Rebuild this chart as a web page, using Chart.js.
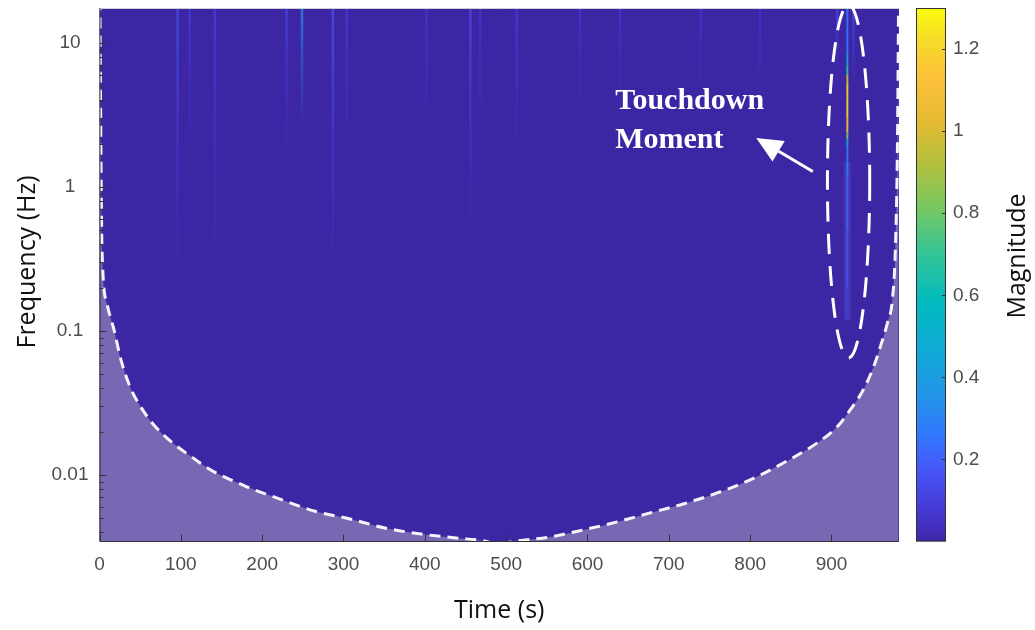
<!DOCTYPE html>
<html lang="en">
<head>
<meta charset="UTF-8">
<title>Wavelet Scalogram</title>
<script src="https://cdn.jsdelivr.net/npm/chart.js@4.4.1/dist/chart.umd.min.js"></script>
<style>
  body { margin: 0; background: #fff; }
  .wrap { position: relative; width: 1035px; height: 630px; }
  #mainChart { position: absolute; left: 0; top: 0; }
  #barChart { position: absolute; left: 880px; top: 0; }
</style>
</head>
<body>
<div class="wrap">
  <canvas id="mainChart" width="1035" height="630"></canvas>
  <canvas id="barChart" width="155" height="630"></canvas>
</div>
<script>
// axes
const timeRange = [0, 983];
const freqRange = [0.00345, 17.5];
const timeTicks = [0, 100, 200, 300, 400, 500, 600, 700, 800, 900];
const freqTicks = [0.01, 0.1, 1, 10];
const magRange = [0, 1.3];
const magTicks = [0.2, 0.4, 0.6, 0.8, 1, 1.2];

// cone of influence (time s, freq Hz)
const coiTimes = [0.5, 2.0, 3.1, 9.2, 17.8, 26.4, 37.5, 48.6, 65.8, 91.6, 113.8, 134.7, 178.4, 221.9, 265, 308, 351, 395, 438.5, 473, 490,
                  505, 554, 594.7, 636.5, 677, 717.7, 759.5, 800, 840.7, 882.5, 907, 923, 939, 951.7, 960, 968.8, 974.8, 978.5, 981, 982.5];
const coiFreqs = [20, 1.2, 0.365, 0.155, 0.102, 0.063, 0.041, 0.031, 0.0226, 0.0164, 0.0133, 0.011, 0.0084, 0.0068, 0.0056, 0.00495, 0.00428, 0.00389, 0.00365, 0.00348, 0.0033,
                  0.00343, 0.00371, 0.00415, 0.00472, 0.00545, 0.00629, 0.0075, 0.00923, 0.0121, 0.0167, 0.0216, 0.0283, 0.0389, 0.0562, 0.0775, 0.1137, 0.164, 0.365, 1.8, 20];

// faint high-frequency streaks: time, peak magnitude, frequency where they fade out
const streakTimes = [96, 111, 142, 230, 249, 287, 304, 402, 456, 468, 513, 591, 640, 739, 812, 907, 927];
const streakMags = [0.13, 0.08, 0.09, 0.1, 0.32, 0.15, 0.08, 0.07, 0.13, 0.07, 0.08, 0.06, 0.06, 0.06, 0.06, 0.12, 0.14];
const streakLowFreqs = [0.2, 1.5, 0.25, 1.5, 2.5, 0.25, 1.5, 2, 0.45, 2, 1.5, 3, 3, 4, 4, 6, 5];

// touchdown streak profile
const touchTime = 919.5;
const touchFreqs = [17.5, 13, 8.5, 7, 6, 5.2, 4.2, 3.0, 2.4, 2.15, 1.9, 1.2, 0.5, 0.2, 0.12];
const touchMags = [0.28, 0.22, 0.3, 0.55, 0.8, 1.15, 1.25, 1.2, 1.05, 0.6, 0.3, 0.22, 0.18, 0.12, 0.06];
const glowFreqs = [1.5, 0.12];

// annotation
const ellipseTimes = [895, 947];
const ellipseFreqs = [0.065, 18.4];
const arrowTimes = [877, 807.5];
const arrowFreqs = [1.28, 2.19];
const noteLines = ['Touchdown', 'Moment'];
const noteTime = 634;
const noteFreqs = [3.48, 1.87];

// parula-like colormap
const parulaStops = [
  [0.00, [62, 38, 168]], [0.06, [69, 57, 212]], [0.13, [71, 85, 246]], [0.20, [50, 120, 254]],
  [0.27, [35, 148, 232]], [0.36, [16, 170, 214]], [0.45, [2, 187, 190]], [0.54, [52, 196, 150]],
  [0.62, [115, 200, 100]], [0.71, [180, 192, 60]], [0.79, [230, 186, 50]], [0.87, [253, 192, 57]],
  [0.94, [245, 220, 40]], [1.00, [249, 251, 14]]
];
const baseColor = 'rgb(60, 38, 164)';
const coiShade = '#7867b3';
const tickColor = '#4d4d4d';
const tickFont = {family: '"Liberation Sans", Arial, sans-serif', size: 19};

function parula(mag, alpha = 1) {
  let f = (mag - magRange[0]) / (magRange[1] - magRange[0]);
  f = Math.max(0, Math.min(1, f));
  for (let i = 1; i < parulaStops.length; i++) {
    const [p1, c1] = parulaStops[i];
    const [p0, c0] = parulaStops[i - 1];
    if (f <= p1) {
      const k = (f - p0) / (p1 - p0);
      const c = c0.map((v, j) => Math.round(v + (c1[j] - v) * k));
      return `rgba(${c[0]}, ${c[1]}, ${c[2]}, ${alpha})`;
    }
  }
  return 'rgb(249, 251, 14)';
}

function fadeStroke(chart, mag, lowF) {
  const {chartArea, scales} = chart;
  if (!chartArea || !scales.y) return parula(mag, 0.5);
  const y0 = scales.y.getPixelForValue(freqRange[1]);
  const y1 = scales.y.getPixelForValue(lowF);
  const g = chart.ctx.createLinearGradient(0, y0, 0, y1);
  g.addColorStop(0, parula(mag, 0.8));
  g.addColorStop(0.4, parula(mag, 0.4));
  g.addColorStop(1, parula(mag, 0));
  return g;
}

// vertical scales: drop the label overhang padding so the plot box fills its slot
function noOverhang(axis) {
  axis.paddingTop = 0;
  axis.paddingBottom = 0;
  axis.paddingLeft = 0;
  axis.paddingRight = 0;
}

const streakSets = streakTimes.map((t, i) => ({
  data: [{x: t, y: freqRange[1]}, {x: t, y: streakLowFreqs[i]}],
  borderWidth: 2.5,
  borderColor: ctx => fadeStroke(ctx.chart, streakMags[i], streakLowFreqs[i]),
  pointRadius: 0,
  order: 3
}));

const glowSet = {
  data: glowFreqs.map(f => ({x: touchTime, y: f})),
  borderWidth: 7,
  borderColor: 'rgba(85, 95, 225, 0.3)',
  pointRadius: 0,
  order: 3
};

const touchSet = {
  data: touchFreqs.map(f => ({x: touchTime, y: f})),
  borderWidth: 2,
  borderColor: parula(touchMags[0]),
  segment: {
    borderColor: c => parula((touchMags[c.p0DataIndex] + touchMags[c.p1DataIndex]) / 2, 0.9)
  },
  pointRadius: 0,
  order: 2
};

const coiSet = {
  data: coiTimes.map((t, i) => ({x: t, y: coiFreqs[i]})),
  borderColor: '#f4f4f8',
  borderWidth: 3,
  borderDash: [11, 7],
  backgroundColor: coiShade,
  fill: 'start',
  pointRadius: 0,
  cubicInterpolationMode: 'monotone',
  order: 1
};

const heatBackground = {
  id: 'heatBackground',
  beforeDatasetsDraw(chart) {
    const {ctx, chartArea: a} = chart;
    ctx.save();
    ctx.fillStyle = baseColor;
    ctx.fillRect(a.left, a.top, a.right - a.left, a.bottom - a.top);
    ctx.restore();
  }
};

const overlay = {
  id: 'overlay',
  afterDatasetsDraw(chart) {
    const {ctx, chartArea: a, scales: {x, y}} = chart;
    ctx.save();

    // axis lines and inward ticks
    ctx.strokeStyle = '#d0d0d0';
    ctx.lineWidth = 1;
    ctx.beginPath();
    ctx.moveTo(a.left, a.top + 0.5);
    ctx.lineTo(a.right, a.top + 0.5);
    ctx.stroke();
    ctx.strokeStyle = '#333';
    ctx.beginPath();
    ctx.moveTo(a.left + 0.5, a.top);
    ctx.lineTo(a.left + 0.5, a.bottom);
    ctx.lineTo(a.right, a.bottom);
    timeTicks.forEach(t => {
      const px = Math.round(x.getPixelForValue(t)) + 0.5;
      ctx.moveTo(px, a.bottom);
      ctx.lineTo(px, a.bottom - 7);
    });
    freqTicks.forEach(f => {
      const py = Math.round(y.getPixelForValue(f)) + 0.5;
      ctx.moveTo(a.left, py);
      ctx.lineTo(a.left + 7, py);
    });
    [0.001, 0.01, 0.1, 1, 10].forEach(d => {
      for (let k = 2; k < 10; k++) {
        const v = d * k;
        if (v < freqRange[0] || v > freqRange[1]) continue;
        const py = Math.round(y.getPixelForValue(v)) + 0.5;
        ctx.moveTo(a.left, py);
        ctx.lineTo(a.left + 4, py);
      }
    });
    ctx.stroke();

    // ellipse round the touchdown streak
    const xl = x.getPixelForValue(ellipseTimes[0]);
    const xr = x.getPixelForValue(ellipseTimes[1]);
    const yb = y.getPixelForValue(ellipseFreqs[0]);
    const yt = y.getPixelForValue(ellipseFreqs[1]);
    ctx.strokeStyle = '#ffffff';
    ctx.lineWidth = 3;
    ctx.setLineDash([20, 12]);
    ctx.beginPath();
    ctx.ellipse((xl + xr) / 2, (yt + yb) / 2, (xr - xl) / 2, (yb - yt) / 2, 0, 0, Math.PI * 2);
    ctx.stroke();
    ctx.setLineDash([]);

    // arrow
    const tx = x.getPixelForValue(arrowTimes[0]), ty = y.getPixelForValue(arrowFreqs[0]);
    const hx = x.getPixelForValue(arrowTimes[1]), hy = y.getPixelForValue(arrowFreqs[1]);
    const len = Math.hypot(hx - tx, hy - ty);
    const ux = (hx - tx) / len, uy = (hy - ty) / len;
    const bx = hx - ux * 26, by = hy - uy * 26;
    ctx.lineWidth = 3;
    ctx.beginPath();
    ctx.moveTo(tx, ty);
    ctx.lineTo(bx, by);
    ctx.stroke();
    ctx.fillStyle = '#ffffff';
    ctx.beginPath();
    ctx.moveTo(hx, hy);
    ctx.lineTo(bx - uy * 12, by + ux * 12);
    ctx.lineTo(bx + uy * 12, by - ux * 12);
    ctx.closePath();
    ctx.fill();

    // note text
    ctx.font = 'bold 30px "Liberation Serif", "Times New Roman", serif';
    ctx.textAlign = 'left';
    ctx.textBaseline = 'alphabetic';
    noteLines.forEach((line, i) => {
      ctx.fillText(line, x.getPixelForValue(noteTime), y.getPixelForValue(noteFreqs[i]));
    });

    // y axis title
    ctx.translate(27.5, 262);
    ctx.rotate(-Math.PI / 2);
    ctx.fillStyle = '#111';
    ctx.font = '25px "Open Sans", sans-serif';
    ctx.textAlign = 'center';
    ctx.textBaseline = 'middle';
    ctx.fillText('Frequency (Hz)', 0, 0);
    ctx.restore();
  }
};

new Chart(document.getElementById('mainChart'), {
  type: 'line',
  data: {datasets: [...streakSets, glowSet, touchSet, coiSet]},
  options: {
    responsive: false,
    animation: false,
    layout: {padding: {left: 0, top: 8, right: 136, bottom: 0}},
    plugins: {legend: {display: false}, tooltip: {enabled: false}},
    scales: {
      x: {
        type: 'linear',
        min: timeRange[0],
        max: timeRange[1],
        grid: {display: false, drawTicks: false},
        border: {display: false},
        afterBuildTicks: axis => { axis.ticks = timeTicks.map(v => ({value: v})); },
        afterFit: axis => { axis.height = 88.5; noOverhang(axis); },
        ticks: {
          padding: 12,
          maxRotation: 0,
          color: tickColor,
          font: tickFont,
          callback: v => String(v)
        },
        title: {
          display: true,
          text: 'Time (s)',
          color: '#111',
          font: {family: '"Open Sans", sans-serif', size: 25},
          padding: {top: 0, bottom: 4}
        }
      },
      y: {
        type: 'logarithmic',
        min: freqRange[0],
        max: freqRange[1],
        grid: {display: false, drawTicks: false},
        border: {display: false},
        afterBuildTicks: axis => { axis.ticks = freqTicks.map(v => ({value: v})); },
        afterFit: axis => { axis.width = 99.5; noOverhang(axis); },
        ticks: {
          padding: 11,
          crossAlign: 'center',
          color: tickColor,
          font: tickFont,
          callback: v => String(v)
        }
      }
    }
  },
  plugins: [heatBackground, overlay]
});

// colorbar
const colorbarFrame = {
  id: 'colorbarFrame',
  afterDatasetsDraw(chart) {
    const {ctx, chartArea: a, scales: {y}} = chart;
    ctx.save();
    ctx.strokeStyle = '#333';
    ctx.lineWidth = 1;
    ctx.strokeRect(a.left + 0.5, a.top + 0.5, a.right - a.left - 1, a.bottom - a.top - 1);
    ctx.beginPath();
    magTicks.forEach(m => {
      const py = Math.round(y.getPixelForValue(m)) + 0.5;
      ctx.moveTo(a.right, py);
      ctx.lineTo(a.right - 4, py);
    });
    ctx.stroke();
    ctx.translate(138, 256);
    ctx.rotate(-Math.PI / 2);
    ctx.fillStyle = '#111';
    ctx.font = '25px "Open Sans", sans-serif';
    ctx.textAlign = 'center';
    ctx.textBaseline = 'middle';
    ctx.fillText('Magnitude', 0, 0);
    ctx.restore();
  }
};

new Chart(document.getElementById('barChart'), {
  type: 'bar',
  data: {
    labels: [''],
    datasets: [{
      data: [magRange],
      borderWidth: 0,
      barPercentage: 1,
      categoryPercentage: 1,
      backgroundColor: ctx => {
        const {chartArea, ctx: c} = ctx.chart;
        if (!chartArea) return baseColor;
        const g = c.createLinearGradient(0, chartArea.bottom, 0, chartArea.top);
        parulaStops.forEach(([p, col]) => g.addColorStop(p, `rgb(${col[0]}, ${col[1]}, ${col[2]})`));
        return g;
      }
    }]
  },
  options: {
    responsive: false,
    animation: false,
    layout: {padding: {left: 36, top: 8, right: 0, bottom: 88.5}},
    plugins: {legend: {display: false}, tooltip: {enabled: false}},
    scales: {
      x: {display: false},
      y: {
        position: 'right',
        min: magRange[0],
        max: magRange[1],
        grid: {display: false, drawTicks: false},
        border: {display: false},
        afterBuildTicks: axis => { axis.ticks = magTicks.map(v => ({value: v})); },
        afterFit: axis => { axis.width = 89; noOverhang(axis); },
        ticks: {
          padding: 7,
          color: tickColor,
          font: tickFont,
          callback: v => String(Math.round(v * 10) / 10)
        }
      }
    }
  },
  plugins: [colorbarFrame]
});
</script>
</body>
</html>
